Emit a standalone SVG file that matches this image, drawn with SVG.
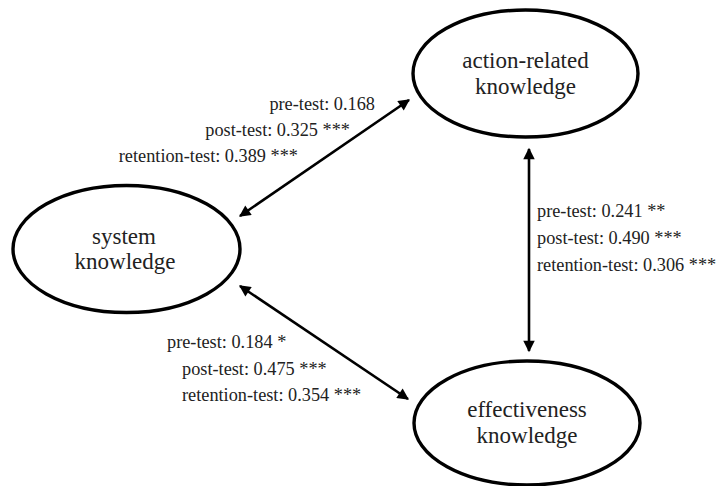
<svg xmlns="http://www.w3.org/2000/svg" width="722" height="486" viewBox="0 0 722 486">
<style>
.node ellipse{fill:#fff;stroke:#000;stroke-width:3.4}
.nt{font-family:'Liberation Serif','Times New Roman',serif;font-size:23px;fill:#222;text-anchor:middle}
.lb{font-family:'Liberation Serif','Times New Roman',serif;font-size:18.3px;fill:#222}
.edge{stroke:#000;stroke-width:2.6;fill:none;marker-start:url(#ah);marker-end:url(#ah)}
</style>
<defs>
<marker id="ah" viewBox="0 0 10 10" refX="9" refY="5" markerWidth="5.3" markerHeight="4.4" orient="auto-start-reverse" markerUnits="strokeWidth">
<path d="M0,0 L10,5 L0,10 z" fill="#000"/>
</marker>
</defs>
<rect width="722" height="486" fill="#fff"/>
<g id="connectors">
<line class="edge" x1="240" y1="216" x2="409" y2="100"/>
<line class="edge" x1="240" y1="286" x2="408" y2="399"/>
<line class="edge" x1="529" y1="149" x2="529" y2="351"/>
</g>
<g id="action-related" class="node">
<ellipse cx="525.5" cy="73.5" rx="112.5" ry="63.5"/>
<text class="nt" x="525.5" y="68">action-related</text>
<text class="nt" x="525.5" y="94">knowledge</text>
</g>
<g id="system" class="node">
<ellipse cx="126.5" cy="249" rx="113.5" ry="63.5"/>
<text class="nt" x="124" y="244">system</text>
<text class="nt" x="125" y="269">knowledge</text>
</g>
<g id="effectiveness" class="node">
<ellipse cx="527" cy="423" rx="113" ry="62"/>
<text class="nt" x="527" y="417">effectiveness</text>
<text class="nt" x="527" y="443">knowledge</text>
</g>
<g id="labels">
<text class="lb" x="375" y="110" text-anchor="end">pre-test: 0.168</text>
<text class="lb" x="350" y="136" text-anchor="end">post-test: 0.325 ***</text>
<text class="lb" x="298" y="162" text-anchor="end">retention-test: 0.389 ***</text>
<text class="lb" x="537" y="217">pre-test: 0.241 **</text>
<text class="lb" x="537" y="244">post-test: 0.490 ***</text>
<text class="lb" x="537" y="271">retention-test: 0.306 ***</text>
<text class="lb" x="167" y="348">pre-test: 0.184 *</text>
<text class="lb" x="182" y="375">post-test: 0.475 ***</text>
<text class="lb" x="182" y="401">retention-test: 0.354 ***</text>
</g>
</svg>
